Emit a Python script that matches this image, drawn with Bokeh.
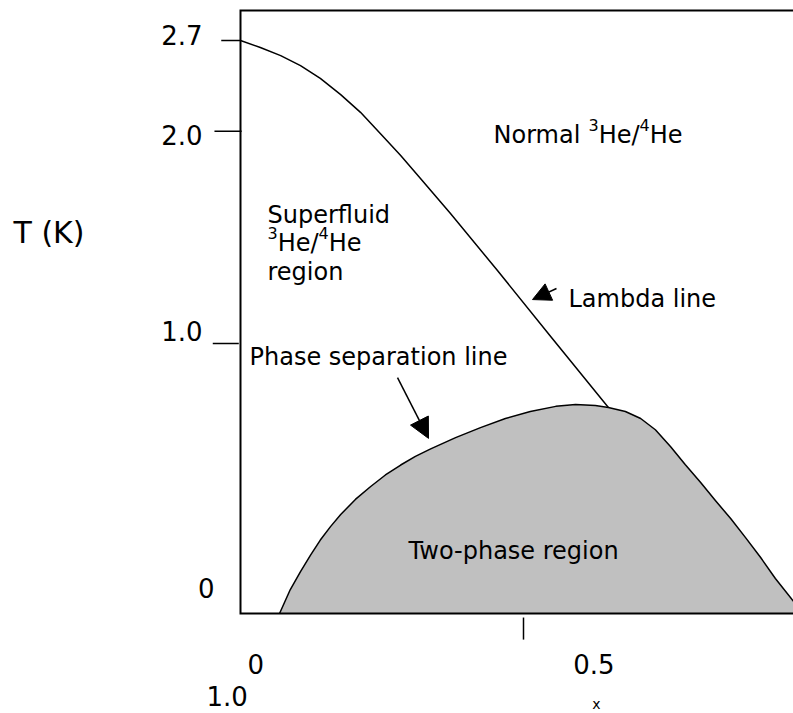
from bokeh.plotting import figure
from bokeh.models import Range1d, Arrow, NormalHead
from bokeh.core.properties import value
from bokeh.embed import file_html
from bokeh.resources import INLINE

# 3He/4He mixture phase diagram (schematic): x = 3He concentration, T in kelvin
lambda_x = [0.000, 0.035, 0.071, 0.106, 0.141, 0.177, 0.212, 0.247, 0.283,
            0.318, 0.371, 0.454, 0.548, 0.650]
lambda_T = [2.130, 2.104, 2.074, 2.037, 1.989, 1.929, 1.863, 1.784, 1.703,
            1.617, 1.487, 1.275, 1.030, 0.766]

sep_x = [0.069, 0.088, 0.106, 0.124, 0.141, 0.159, 0.177, 0.203, 0.230, 0.256,
         0.283, 0.309, 0.336, 0.380, 0.424, 0.468, 0.512, 0.557, 0.592, 0.627,
         0.650, 0.680, 0.707, 0.733, 0.760, 0.786, 0.813, 0.839, 0.866, 0.892,
         0.919, 0.945, 0.977, 0.993]
sep_T = [0.000, 0.089, 0.156, 0.218, 0.273, 0.323, 0.368, 0.424, 0.472, 0.515,
         0.552, 0.584, 0.612, 0.654, 0.691, 0.725, 0.751, 0.770, 0.777, 0.773,
         0.766, 0.751, 0.725, 0.683, 0.620, 0.553, 0.487, 0.420, 0.353, 0.283,
         0.208, 0.130, 0.045, 0.000]

y_tick_labels = ["2.7", "2.0", "1.0", "0"]
x_tick_labels = ["0", "1.0", "0.5"]

FONT = value("DejaVu Sans")
PX_X = 1 / 566   # one screen pixel in x units
PX_T = 1 / 269   # one screen pixel in kelvin

p = figure(width=793, height=713, output_backend="svg", toolbar_location=None,
           x_axis_type=None, y_axis_type=None, min_border=0,
           x_range=Range1d(-240 * PX_X, 553 * PX_X), y_range=Range1d(-100 * PX_T, 613 * PX_T))
p.outline_line_color = None
p.background_fill_color = "white"
p.border_fill_color = "white"

# two-phase region
p.varea(x=sep_x, y1=[0] * len(sep_x), y2=sep_T, fill_color="#c0c0c0")

# frame: top, left and bottom edges
top_T = 2.242
p.line(x=[1.05, 0, 0, 1.05], y=[top_T, top_T, 0, 0], line_color="black",
       line_width=2, line_join="miter")

# curves
p.line(x=lambda_x, y=lambda_T, line_color="black", line_width=1.5, line_join="round")
p.line(x=sep_x, y=sep_T, line_color="black", line_width=1.5, line_join="round")

# short tick marks
p.segment(x0=[-0.034, -0.046, -0.049], y0=[2.130, 1.793, 1.004],
          x1=[0.0, 0.002, -0.003], y1=[2.130, 1.793, 1.004],
          line_color="black", line_width=1.5)
p.segment(x0=[0.5], y0=[-0.015], x1=[0.5], y1=[-0.097],
          line_color="black", line_width=1.5)

# tick labels
p.text(x=[-0.0671, -0.0671, -0.0671, -0.0459], y=[2.149, 1.777, 1.052, 0.093],
       text=y_tick_labels, text_font=FONT, text_font_size="26px",
       text_align="right", text_baseline="alphabetic", text_color="black")
p.text(x=[0.0124, -0.060, 0.588], y=[-0.186, -0.305, -0.186],
       text=x_tick_labels, text_font=FONT, text_font_size="26px",
       text_align="left", text_baseline="alphabetic", text_color="black")

# axis titles
p.text(x=[-0.401], y=[1.416], text=["T  (K)"], text_font=FONT, text_font_size="30px",
       text_align="left", text_baseline="alphabetic", text_color="black")
p.text(x=[0.629], y=[-0.338], text=["x"], text_font=FONT, text_font_size="14px",
       text_align="center", text_baseline="alphabetic", text_color="black")

# region and line labels
p.text(x=[0.447, 0.0477, 0.0477, 0.5795, 0.0159, 0.297],
       y=[1.777, 1.483, 1.271, 1.171, 0.954, 0.234],
       text=["Normal ", "Superfluid", "region",
             "Lambda line", "Phase separation line", "Two-phase region"],
       text_font=FONT, text_font_size="24px", text_align="left",
       text_baseline="alphabetic", text_color="black")

# 3He/4He with raised mass numbers
norm_x0 = 0.447 + 95 * PX_X
sf_x0 = 0.0477
base_y = [1.777, 1.3755]
p.text(x=[norm_x0 + 10.2 * PX_X, norm_x0 + 61.3 * PX_X,
          sf_x0 + 10.2 * PX_X, sf_x0 + 61.3 * PX_X],
       y=[base_y[0], base_y[0], base_y[1], base_y[1]],
       text=["He/", "He", "He/", "He"],
       text_font=FONT, text_font_size="24px", text_align="left",
       text_baseline="alphabetic", text_color="black")
p.text(x=[norm_x0, norm_x0 + 51.1 * PX_X, sf_x0, sf_x0 + 51.1 * PX_X],
       y=[base_y[0] + 10 * PX_T, base_y[0] + 10 * PX_T,
          base_y[1] + 10 * PX_T, base_y[1] + 10 * PX_T],
       text=["3", "4", "3", "4"],
       text_font=FONT, text_font_size="16px", text_align="left",
       text_baseline="alphabetic", text_color="black")

# pointer arrows
p.add_layout(Arrow(end=NormalHead(size=18, fill_color="black", line_color="black"),
                   x_start=0.5583, y_start=1.208, x_end=0.5159, y_end=1.167,
                   line_color="black", line_width=1.5))
p.add_layout(Arrow(end=NormalHead(size=20, fill_color="black", line_color="black"),
                   x_start=0.2774, y_start=0.877, x_end=0.3322, y_end=0.651,
                   line_color="black", line_width=1.5))

open("out.html", "w").write(file_html(p, INLINE))
